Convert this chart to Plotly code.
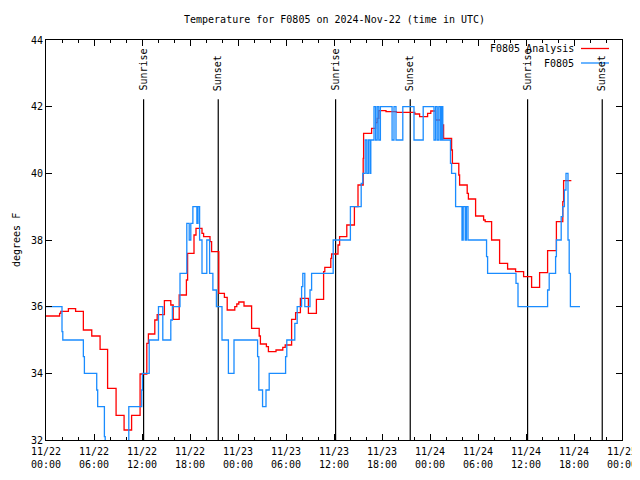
import pandas as pd
import plotly.graph_objects as go

BASE = pd.Timestamp("2024-11-22 00:00")

# Analysis series (hours after 11/22 00:00 UTC, degrees F)
ana_hours = [0, 1.7, 1.85, 2.8, 3.7, 4.67, 5.72, 6.76, 7.7, 8.76, 9.76, 10.7, 11.76,
             12.6, 12.8, 13.6, 13.9, 14.8, 15.6, 15.9, 16.65, 17.55, 17.7, 18.5, 18.75,
             19.5, 19.7, 20.5, 20.7, 21.6, 22.3, 22.65, 23.6, 23.85, 24.1, 24.75, 25.7,
             26.65, 26.8, 27.55, 27.8, 28.75, 29.6, 29.9, 30.7, 31.2, 31.8, 32.8, 33.8,
             34.7, 34.85, 35.6, 35.7, 36.5, 36.7, 37.6, 38.55, 39.0, 39.65, 39.7, 40.7,
             41.2, 41.4, 41.6, 42.5, 43.8, 46.1, 46.7, 47.7, 48.1, 48.7, 49.5, 49.7,
             50.7, 50.8, 51.6, 51.7, 52.65, 52.8, 53.7, 54.7, 54.9, 55.7, 56.7, 57.7,
             58.7, 59.7, 60.7, 61.7, 62.7, 63.8, 64.6, 64.7, 65.67]
ana_temps = [35.72, 35.8, 35.86, 35.94, 35.86, 35.3, 35.12, 34.72, 33.55, 32.74, 32.3, 32.74, 33.98,
             34.9, 35.18, 35.6, 35.76, 36.18, 36.05, 35.62, 36.35, 36.8, 37.6, 38.15, 38.35,
             38.2, 38.1, 37.95, 37.65, 36.4, 36.28, 35.9, 36.0, 36.08, 36.14, 36.02, 35.35,
             35.12, 34.88, 34.8, 34.65, 34.7, 34.78, 34.85, 35.62, 35.82, 36.25, 35.8, 36.22,
             37.05, 37.18, 37.45, 37.58, 37.85, 38.1, 38.45, 39.0, 39.65, 40.45, 41.2, 41.35,
             41.52, 41.65, 41.88, 41.85, 41.83, 41.78, 41.7, 41.8, 41.87, 41.6, 41.45, 41.05,
             40.7, 40.3, 39.95, 39.65, 39.4, 39.23, 38.72, 38.6, 38.55, 38.0, 37.3, 37.13,
             37.05, 36.9, 36.58, 37.02, 37.68, 38.55, 39.15, 39.78, 39.78]

# Observed series
obs_hours = [0, 2.0, 2.1, 4.67, 4.8, 6.34, 6.46, 7.3, 7.4, 10.35, 11.97, 12.05, 12.9,
             14.06, 14.6, 15.6, 15.8, 16.75, 17.6, 17.9, 18.1, 18.36, 18.86, 19.0, 19.2,
             19.5, 20.1, 20.45, 20.86, 21.3, 22.0, 22.8, 23.5, 26.45, 26.6, 27.07, 27.5,
             27.9, 29.95, 30.1, 31.1, 31.4, 31.95, 32.1, 32.35, 33.0, 33.2, 35.9, 38.05,
             39.4, 39.6, 39.9, 40.1, 40.3, 40.5, 40.6, 41.0, 41.2, 41.4, 41.6, 41.8,
             43.26, 43.5, 43.75, 44.6, 46.0, 47.15, 48.5, 48.7, 48.9, 49.1, 49.3, 49.45,
             49.6, 50.56, 50.7, 51.2, 52.0, 52.15, 52.4, 52.55, 52.75, 55.07, 55.2, 58.75,
             59.0, 62.7, 62.9, 63.7, 63.8, 64.4, 64.6, 64.8, 65.0, 65.25, 65.4, 65.55, 66.75]
obs_temps = [36, 35.25, 35, 34.5, 34, 33.5, 33, 32.1, 31, 33, 33.5, 34, 35,
             36, 35, 35.6, 36, 37, 38.5, 38, 38.5, 39, 38.5, 39, 38,
             37, 38, 37, 36.5, 36, 35, 34, 35, 34.5, 33.5, 33, 33.5,
             34, 34.5, 35, 35.5, 36, 36.6, 37, 36, 36.5, 37, 38, 39,
             39.7, 40, 41, 40, 41, 40, 41, 42, 41, 42, 41, 42,
             41, 42, 41, 42, 41, 42, 41, 42, 41, 42, 41, 42,
             41, 40.3, 40, 39, 38, 39, 38, 39, 38, 37.5, 37, 36.7,
             36, 36.5, 37, 37.5, 38, 38.7, 39, 39.5, 40, 38, 37, 36, 36]

sun_events = ["Sunrise", "Sunset", "Sunrise", "Sunset", "Sunrise", "Sunset"]
sun_hours = [12.2, 21.53, 36.2, 45.53, 60.2, 69.53]

tick_hours = list(range(0, 73, 6))
y_ticks = [32, 34, 36, 38, 40, 42, 44]


def to_time(hs):
    return [BASE + pd.Timedelta(hours=h) for h in hs]


tick_times = to_time(tick_hours)
tick_text = [t.strftime("%m/%d") + "<br>" + t.strftime("%H:%M") for t in tick_times]

FONT = "DejaVu Sans Mono"
FS = 10
RED = "#ff0000"
BLUE = "#1a8cff"

# page body has an 8px default margin; size the figure so the page does not
# overflow the 640x480 window and the plot area sits at x 46..622, y 40..440
OFF = 8
W, H = 640 - OFF, 480 - 2 * OFF - 2
L, T = 46 - OFF, 40 - OFF
R = W - (622 - OFF)
B = H - (440 - OFF)
PW, PH = W - L - R, H - T - B


def px_x(xpix):
    return (xpix - OFF - L) / PW


def px_y(ypix):
    return (H - B - (ypix - OFF)) / PH


fig = go.Figure()
fig.add_trace(go.Scatter(x=to_time(ana_hours), y=ana_temps, mode="lines",
                         name="F0805 Analysis",
                         line=dict(shape="hv", color=RED, width=1.3)))
fig.add_trace(go.Scatter(x=to_time(obs_hours), y=obs_temps, mode="lines",
                         name="F0805",
                         line=dict(shape="hv", color=BLUE, width=1.3)))

shapes = []
annotations = []
for name, h in zip(sun_events, sun_hours):
    t = BASE + pd.Timedelta(hours=h)
    shapes.append(dict(type="line", xref="x", yref="y", x0=t, x1=t, y0=32, y1=42.22,
                       line=dict(color="black", width=1.2), layer="below"))
    annotations.append(dict(x=t, y=px_y(93), xref="x", yref="paper",
                            text=name, textangle=-90, showarrow=False,
                            xanchor="center", yanchor="bottom",
                            font=dict(family=FONT, size=FS, color="black")))

# gnuplot-style key
kx0, kx1 = px_x(581), px_x(609)
for label, color, ypix in [("F0805 Analysis", RED, 48.5), ("F0805", BLUE, 63)]:
    yp = px_y(ypix)
    annotations.append(dict(x=px_x(576), y=yp, xref="paper", yref="paper",
                            text=label, showarrow=False, xanchor="right", yanchor="middle",
                            font=dict(family=FONT, size=FS, color="black")))
    shapes.append(dict(type="line", xref="paper", yref="paper", x0=kx0, x1=kx1,
                       y0=yp, y1=yp, line=dict(color=color, width=1.3)))

annotations.append(dict(x=0.5, y=px_y(19), xref="paper", yref="paper",
                        text="Temperature for F0805 on 2024-Nov-22 (time in UTC)",
                        showarrow=False, xanchor="center", yanchor="middle",
                        font=dict(family=FONT, size=FS, color="black")))
annotations.append(dict(x=px_x(16), y=px_y(240), xref="paper", yref="paper",
                        text="degrees F", textangle=-90, showarrow=False,
                        xanchor="center", yanchor="middle",
                        font=dict(family=FONT, size=FS, color="black")))

fig.update_layout(
    width=W, height=H,
    margin=dict(l=L, r=R, t=T, b=B, pad=0),
    paper_bgcolor="white", plot_bgcolor="white",
    showlegend=False,
    font=dict(family=FONT, size=FS, color="black"),
    shapes=shapes, annotations=annotations,
    xaxis=dict(type="date", range=[tick_times[0], tick_times[-1]],
               tickvals=tick_times, ticktext=tick_text, automargin=False,
               ticks="inside", ticklen=6, tickwidth=1, tickcolor="black",
               ticklabelstandoff=2, ticklabeloverflow="allow",
               showline=True, linecolor="black", linewidth=1, mirror="allticks",
               showgrid=False, zeroline=False,
               minor=dict(dtick=2 * 3600 * 1000, tick0=tick_times[0], ticks="inside",
                          ticklen=3, tickcolor="black", showgrid=False),
               tickfont=dict(family=FONT, size=FS)),
    yaxis=dict(range=[32, 44], tickvals=y_ticks, ticktext=[str(v) for v in y_ticks],
               automargin=False,
               ticks="inside", ticklen=6, tickwidth=1, tickcolor="black",
               showline=True, linecolor="black", linewidth=1, mirror="allticks",
               showgrid=False, zeroline=False,
               tickfont=dict(family=FONT, size=FS)),
)

fig.write_html("out.html")
